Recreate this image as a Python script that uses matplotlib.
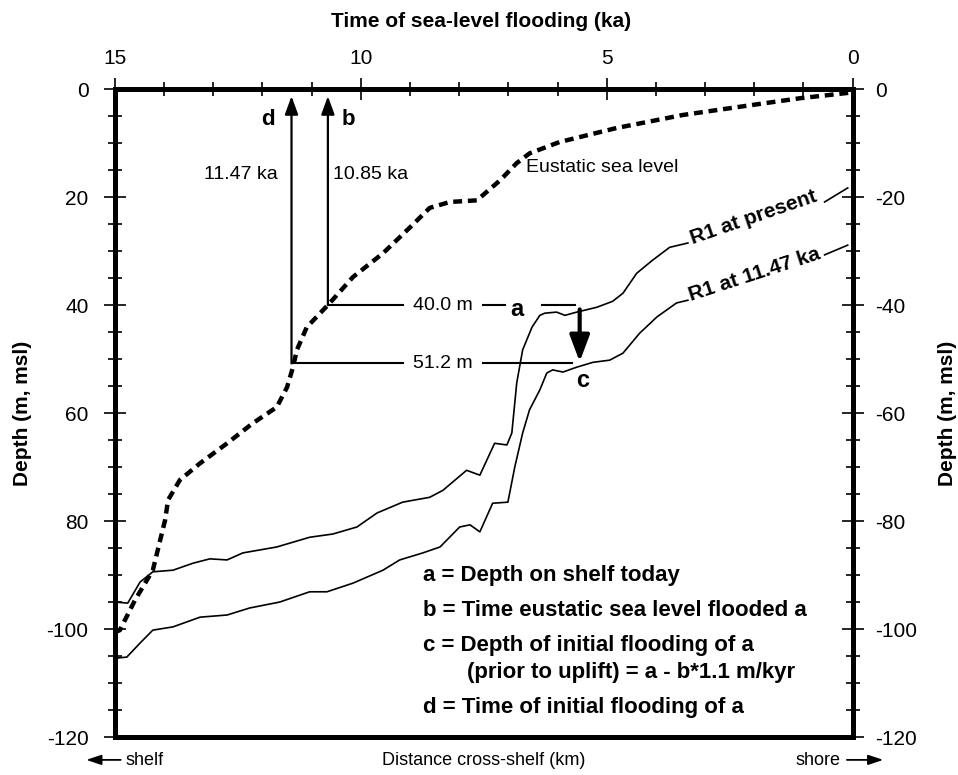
import matplotlib.pyplot as plt
from matplotlib.ticker import MultipleLocator

plt.rcParams['font.family'] = ['Liberation Sans', 'DejaVu Sans']

# eustatic sea level: time (ka) vs depth (m)
eustatic_ka = [15.0, 14.90, 14.59, 14.23, 13.98, 13.92, 13.68, 13.27, 12.72, 12.20,
               11.71, 11.50, 11.38, 11.30, 11.10, 10.63, 10.16, 9.55, 9.00, 8.60,
               8.19, 7.64, 7.17, 6.83, 6.57, 5.96, 4.80, 3.46, 2.09, 1.08, 0.0]
eustatic_depth = [-100.6, -100.2, -94.6, -89.1, -79.8, -76.1, -72.4, -69.3, -65.6, -61.9,
                  -58.9, -55.2, -51.5, -48.3, -44.1, -39.6, -34.8, -30.4, -25.6, -22.0,
                  -20.9, -20.6, -16.9, -13.7, -11.9, -9.8, -7.2, -4.8, -3.0, -1.7, -0.6]

# R1 reflector today (plotted in the same frame)
r1_present_x = [15.0, 14.74, 14.49, 14.23, 13.82, 13.41, 13.07, 12.72, 12.40, 11.71,
                11.04, 10.57, 10.08, 9.67, 9.15, 8.60, 8.33, 7.85, 7.58, 7.28,
                7.03, 6.93, 6.83, 6.71, 6.52, 6.36, 6.26, 6.02, 5.85, 5.61,
                5.20, 4.88, 4.67, 4.39, 4.07, 3.72, 3.35]
r1_present_depth = [-95.0, -95.2, -91.3, -89.4, -89.1, -87.8, -87.0, -87.2, -85.9, -84.8,
                    -83.0, -82.4, -81.1, -78.5, -76.5, -75.6, -74.3, -70.6, -71.5, -65.6,
                    -65.9, -63.7, -54.4, -48.3, -44.1, -41.9, -41.5, -41.3, -41.9, -41.3,
                    -40.4, -39.3, -37.8, -34.1, -31.7, -29.3, -28.5]
r1_present_tail_x = [0.57, 0.10]
r1_present_tail_depth = [-20.9, -18.3]

# R1 reflector at 11.47 ka
r1_past_x = [15.0, 14.76, 14.49, 14.23, 13.82, 13.27, 12.72, 12.26, 11.65, 11.04,
             10.69, 10.16, 9.55, 9.21, 8.74, 8.39, 7.99, 7.78, 7.58, 7.32,
             7.01, 6.87, 6.71, 6.57, 6.36, 6.22, 6.10, 5.89, 5.61, 5.28,
             4.94, 4.67, 4.33, 3.98, 3.58, 3.35]
r1_past_depth = [-105.4, -105.2, -102.6, -100.2, -99.6, -97.8, -97.4, -96.1, -95.0, -93.1,
                 -93.1, -91.5, -89.1, -87.2, -85.9, -84.8, -81.1, -80.7, -82.0, -76.7,
                 -76.5, -70.0, -63.7, -59.4, -55.7, -52.6, -52.0, -52.4, -51.5, -50.6,
                 -50.2, -48.9, -45.2, -42.2, -39.6, -39.1]
r1_past_tail_x = [0.57, 0.10]
r1_past_tail_depth = [-30.7, -28.9]

# annotation values
b_time = 10.67
d_time = 11.41
a_depth = -40.0
c_depth = -50.8
c_time = 5.55

top_ticks = [15, 10, 5, 0]
top_labels = ['15', '10', '5', '0']
depth_ticks = [0, -20, -40, -60, -80, -100, -120]
left_labels = ['0', '20', '40', '60', '80', '-100', '-120']
right_labels = ['0', '-20', '-40', '-60', '-80', '-100', '-120']

legend_lines = ['a = Depth on shelf today',
                'b = Time eustatic sea level flooded a',
                'c = Depth of initial flooding of a',
                '(prior to uplift) = a - b*1.1 m/kyr',
                'd = Time of initial flooding of a']

fig = plt.figure(figsize=(9.58, 7.75), dpi=100)
ax = fig.add_axes([0.120, 0.049, 0.770, 0.836])
ax.set_xlim(15, 0)
ax.set_ylim(-120, 0)

# curves
ax.plot(eustatic_ka, eustatic_depth, color='k', lw=3.2, linestyle=(0, (2.0, 1.3)))
ax.plot(r1_present_x, r1_present_depth, color='k', lw=1.2, solid_joinstyle='round')
ax.plot(r1_present_tail_x, r1_present_tail_depth, color='k', lw=1.2)
ax.plot(r1_past_x, r1_past_depth, color='k', lw=1.2, solid_joinstyle='round')
ax.plot(r1_past_tail_x, r1_past_tail_depth, color='k', lw=1.2)

# construction lines
ax.plot([b_time, 9.15], [a_depth, a_depth], color='k', lw=1.5)
ax.plot([7.52, 7.07], [a_depth, a_depth], color='k', lw=1.5)
ax.plot([6.32, 5.65], [a_depth, a_depth], color='k', lw=1.5)
ax.plot([d_time, 9.15], [c_depth, c_depth], color='k', lw=1.5)
ax.plot([7.52, 5.71], [c_depth, c_depth], color='k', lw=1.5)

thin_arrow = dict(arrowstyle='-|>,head_length=0.55,head_width=0.2', lw=1.6,
                  color='k', shrinkA=0, shrinkB=0, mutation_scale=20)
ax.annotate('', xy=(d_time, -1.3), xytext=(d_time, c_depth), arrowprops=thin_arrow)
ax.annotate('', xy=(b_time, -1.3), xytext=(b_time, a_depth), arrowprops=thin_arrow)
ax.annotate('', xy=(c_time, c_depth + 0.3), xytext=(c_time, a_depth - 0.8),
            arrowprops=dict(arrowstyle='-|>,head_length=0.8,head_width=0.3', lw=3,
                            color='k', shrinkA=0, shrinkB=0, mutation_scale=20))

ax.text(8.33, a_depth, '40.0 m', ha='center', va='center', fontsize=14)
ax.text(8.33, c_depth, '51.2 m', ha='center', va='center', fontsize=14)
ax.text(6.83, a_depth - 0.9, 'a', ha='center', va='center', fontsize=17, fontweight='bold')
ax.text(5.49, -53.9, 'c', ha='center', va='center', fontsize=17, fontweight='bold')
ax.text(11.89, -5.7, 'd', ha='center', va='center', fontsize=16, fontweight='bold')
ax.text(10.26, -5.7, 'b', ha='center', va='center', fontsize=16, fontweight='bold')
ax.text(11.69, -15.9, '11.47 ka', ha='right', va='center', fontsize=14)
ax.text(10.57, -15.9, '10.85 ka', ha='left', va='center', fontsize=14)
ax.text(6.65, -14.6, 'Eustatic sea level', ha='left', va='center', fontsize=14)
ax.text(2.01, -23.7, 'R1 at present', ha='center', va='center', fontsize=15,
        fontweight='bold', rotation=19, rotation_mode='anchor')
ax.text(1.99, -34.4, 'R1 at 11.47 ka', ha='center', va='center', fontsize=15,
        fontweight='bold', rotation=18, rotation_mode='anchor')

legend_x = [8.74, 8.74, 8.74, 7.85, 8.74]
legend_y = [-90.0, -96.5, -103.0, -108.0, -114.6]
for lx, ly, line in zip(legend_x, legend_y, legend_lines):
    ax.text(lx, ly, line, ha='left', va='center', fontsize=16, fontweight='bold')

# axes styling
for side in ['left', 'right', 'top', 'bottom']:
    ax.spines[side].set_linewidth(3.6)

ax.xaxis.tick_top()
ax.set_xticks(top_ticks, labels=top_labels)
ax.xaxis.set_minor_locator(MultipleLocator(1))
ax.tick_params(axis='x', which='major', direction='inout', length=16, width=1.2,
               pad=7, labelsize=15, top=True, bottom=False, labeltop=True,
               labelbottom=False)
ax.tick_params(axis='x', which='minor', direction='inout', length=10, width=1.2,
               top=True, bottom=False)

ax.set_yticks(depth_ticks, labels=left_labels)
ax.yaxis.set_minor_locator(MultipleLocator(5))
ax.tick_params(axis='y', which='major', direction='inout', length=16, width=1.2,
               pad=11, labelsize=15, right=False)
ax.tick_params(axis='y', which='minor', direction='inout', length=10, width=1.2,
               right=False)

sec = ax.secondary_yaxis('right')
sec.set_yticks(depth_ticks, labels=right_labels)
sec.yaxis.set_minor_locator(MultipleLocator(5))
sec.spines['right'].set_linewidth(3.6)
sec.tick_params(axis='y', which='major', direction='inout', length=16, width=1.2,
                pad=8, labelsize=15)
sec.tick_params(axis='y', which='minor', direction='inout', length=10, width=1.2)

# axis titles and bottom labels
fig.text(0.502, 0.972, 'Time of sea-level flooding (ka)', ha='center', va='center',
         fontsize=15, fontweight='bold')
fig.text(0.024, 0.467, 'Depth (m, msl)', ha='center', va='center', rotation=90,
         fontsize=15, fontweight='bold')
fig.text(0.989, 0.467, 'Depth (m, msl)', ha='center', va='center', rotation=90,
         fontsize=15, fontweight='bold')
fig.text(0.505, 0.019, 'Distance cross-shelf (km)', ha='center', va='center', fontsize=13)
fig.text(0.1315, 0.019, 'shelf', ha='left', va='center', fontsize=13)
fig.text(0.877, 0.019, 'shore', ha='right', va='center', fontsize=13)

small_arrow = dict(arrowstyle='-|>,head_length=0.45,head_width=0.15', lw=1.3,
                   color='k', shrinkA=0, shrinkB=0, mutation_scale=20)
ax.annotate('', xy=(0.090, 0.0195), xytext=(0.126, 0.0195), xycoords='figure fraction',
            textcoords='figure fraction', arrowprops=small_arrow, annotation_clip=False)
ax.annotate('', xy=(0.922, 0.0195), xytext=(0.884, 0.0195), xycoords='figure fraction',
            textcoords='figure fraction', arrowprops=small_arrow, annotation_clip=False)

fig.savefig('out.png', dpi=100)
